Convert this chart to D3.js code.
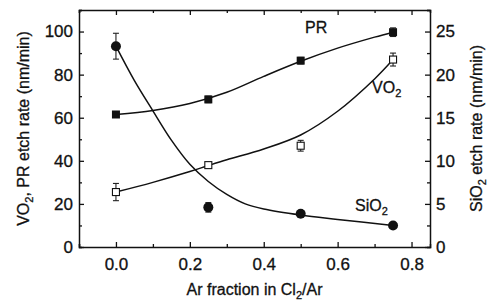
<!DOCTYPE html>
<html>
<head>
<meta charset="utf-8">
<script src="https://cdn.jsdelivr.net/npm/d3@7"></script>
<style>
  body { margin: 0; background: #fff; }
  svg { font-family: "Liberation Sans", Arial, sans-serif; }
  text { fill: #111; stroke: #111; stroke-width: 0.3; }
</style>
</head>
<body>
<div id="container"></div>
<script>
const w = 488;
const h = 304;
const margin = { left: 79, right: 58, top: 10, bottom: 57 };

// measured points
const arFraction = [0, 0.25, 0.5, 0.75];
const prRate = [61.5, 68.5, 86.5, 99.7];
const prErr = [0.6, 1.5, 1.5, 2];
const vo2Rate = [25.5, 38, 47, 87];
const vo2Err = [4, 1, 2.5, 3];
const sio2Rate = [23.3, 4.6, 3.85, 2.5];
const sio2Err = [1.5, 0.55, 0.2, 0.2];

// fitted guide curves as drawn on the figure
const prFitX = [0, 0.1, 0.2, 0.3, 0.4, 0.5, 0.6, 0.7, 0.75];
const prFitY = [61.5, 63.4, 66.6, 71.8, 79.2, 86.2, 92.3, 97.4, 99.7];
const vo2FitX = [0, 0.1, 0.2, 0.25, 0.3, 0.4, 0.5, 0.6, 0.7, 0.75];
const vo2FitY = [25.5, 30, 35, 37.8, 40.5, 45.5, 52, 63, 78, 87];
const sio2FitX = [0, 0.05, 0.1, 0.15, 0.2, 0.25, 0.3, 0.35, 0.4, 0.5, 0.6, 0.75];
const sio2FitY = [23.3, 19.3, 15.8, 12.4, 9.6, 7.6, 6.1, 5.0, 4.4, 3.7, 3.2, 2.5];

const xTicks = [0, 0.2, 0.4, 0.6, 0.8];
const yLeftTicks = [0, 20, 40, 60, 80, 100];
const yRightTicks = [0, 5, 10, 15, 20, 25];

const x = d3.scaleLinear().domain([-0.1, 0.85]).range([margin.left, w - margin.right]);
const yL = d3.scaleLinear().domain([0, 110]).range([h - margin.bottom, margin.top]);
const yR = d3.scaleLinear().domain([0, 27.5]).range([h - margin.bottom, margin.top]);

const svg = d3.select("#container").append("svg")
  .attr("width", w).attr("height", h);

const plotH = h - margin.bottom - margin.top;

// axes, ticks pointing inward
const fmtX = d3.format(".1f");
const isMajorX = d => xTicks.some(t => Math.abs(t - d) < 1e-6);
const xMinor = d3.range(-1, 9).map(i => i / 10);

function styleAxis(g) {
  g.select(".domain").attr("stroke", "#111").attr("stroke-width", 1.5);
  g.selectAll(".tick line").attr("stroke", "#111").attr("stroke-width", 1.3);
  g.selectAll("text").style("font-size", "17px");
}

svg.append("g")
  .attr("transform", `translate(0,${h - margin.bottom})`)
  .call(d3.axisBottom(x).tickValues(xMinor)
    .tickSize(-3).tickPadding(11).tickFormat(d => isMajorX(d) ? fmtX(d) : ""))
  .call(g => g.selectAll(".tick").filter(isMajorX).select("line").attr("y2", -5))
  .call(styleAxis);

svg.append("g")
  .attr("transform", `translate(0,${margin.top})`)
  .call(d3.axisTop(x).tickValues(xMinor).tickSize(-3).tickFormat(""))
  .call(g => g.selectAll(".tick").filter(isMajorX).select("line").attr("y2", 5))
  .call(styleAxis);

svg.append("g")
  .attr("transform", `translate(${margin.left},0)`)
  .call(d3.axisLeft(yL).tickValues(d3.range(0, 111, 10)).tickSize(-3).tickPadding(6)
    .tickFormat(d => yLeftTicks.includes(d) ? d : ""))
  .call(g => g.selectAll(".tick").filter(d => yLeftTicks.includes(d)).select("line").attr("x2", 5))
  .call(styleAxis);

svg.append("g")
  .attr("transform", `translate(${w - margin.right},0)`)
  .call(d3.axisRight(yR).tickValues(d3.range(0, 27.6, 2.5)).tickSize(-3).tickPadding(6)
    .tickFormat(d => yRightTicks.includes(d) ? d : ""))
  .call(g => g.selectAll(".tick").filter(d => yRightTicks.includes(d)).select("line").attr("x2", -5))
  .call(styleAxis);

// axis titles
svg.append("text")
  .attr("x", x(0.375)).attr("y", h - 9)
  .attr("text-anchor", "middle").style("font-size", "16px")
  .html('Ar fraction in Cl<tspan dy="4" font-size="11">2</tspan><tspan dy="-4">/Ar</tspan>');

svg.append("text")
  .attr("transform", `translate(29,${margin.top + plotH / 2}) rotate(-90)`)
  .attr("text-anchor", "middle").style("font-size", "16px")
  .html('VO<tspan dy="4" font-size="11">2</tspan><tspan dy="-4">, PR etch rate (nm/min)</tspan>');

svg.append("text")
  .attr("transform", `translate(${w - 6},${margin.top + plotH / 2}) rotate(-90)`)
  .attr("text-anchor", "middle").style("font-size", "16px")
  .html('SiO<tspan dy="4" font-size="11">2</tspan><tspan dy="-4"> etch rate (nm/min)</tspan>');

// fit curves
const lineL = d3.line().x(d => x(d[0])).y(d => yL(d[1])).curve(d3.curveCatmullRom);
const lineR = d3.line().x(d => x(d[0])).y(d => yR(d[1])).curve(d3.curveCatmullRom);

[[d3.zip(prFitX, prFitY), lineL], [d3.zip(vo2FitX, vo2FitY), lineL], [d3.zip(sio2FitX, sio2FitY), lineR]]
  .forEach(([pts, gen]) => {
    svg.append("path").datum(pts).attr("d", gen)
      .attr("fill", "none").attr("stroke", "#111").attr("stroke-width", 1.5);
  });

// error bars
function errorBars(vals, errs, y) {
  const g = svg.append("g").attr("stroke", "#222").attr("stroke-width", 1.1);
  arFraction.forEach((a, i) => {
    const cx = x(a);
    g.append("line").attr("x1", cx).attr("x2", cx).attr("y1", y(vals[i] - errs[i])).attr("y2", y(vals[i] + errs[i]));
    [vals[i] - errs[i], vals[i] + errs[i]].forEach(v => {
      g.append("line").attr("x1", cx - 3).attr("x2", cx + 3).attr("y1", y(v)).attr("y2", y(v));
    });
  });
}
errorBars(prRate, prErr, yL);
errorBars(vo2Rate, vo2Err, yL);
errorBars(sio2Rate, sio2Err, yR);

// markers
const s = 8;
svg.selectAll(".pr").data(d3.zip(arFraction, prRate)).enter().append("rect")
  .attr("x", d => x(d[0]) - s / 2).attr("y", d => yL(d[1]) - s / 2)
  .attr("width", s).attr("height", s).attr("fill", "#111");

svg.selectAll(".vo2").data(d3.zip(arFraction, vo2Rate)).enter().append("rect")
  .attr("x", d => x(d[0]) - s / 2 + 0.5).attr("y", d => yL(d[1]) - s / 2 + 0.5)
  .attr("width", s - 1).attr("height", s - 1).attr("fill", "#fff")
  .attr("stroke", "#111").attr("stroke-width", 1.1);

svg.selectAll(".sio2").data(d3.zip(arFraction, sio2Rate)).enter().append("circle")
  .attr("cx", d => x(d[0])).attr("cy", d => yR(d[1])).attr("r", 5).attr("fill", "#111");

// series labels
svg.append("text").attr("x", 305).attr("y", 33).style("font-size", "16px").text("PR");
svg.append("text").attr("x", 372).attr("y", 93).style("font-size", "16px")
  .html('VO<tspan dy="4" font-size="11">2</tspan>');
svg.append("text").attr("x", 355).attr("y", 211).style("font-size", "16px")
  .html('SiO<tspan dy="4" font-size="11">2</tspan>');
</script>
</body>
</html>
